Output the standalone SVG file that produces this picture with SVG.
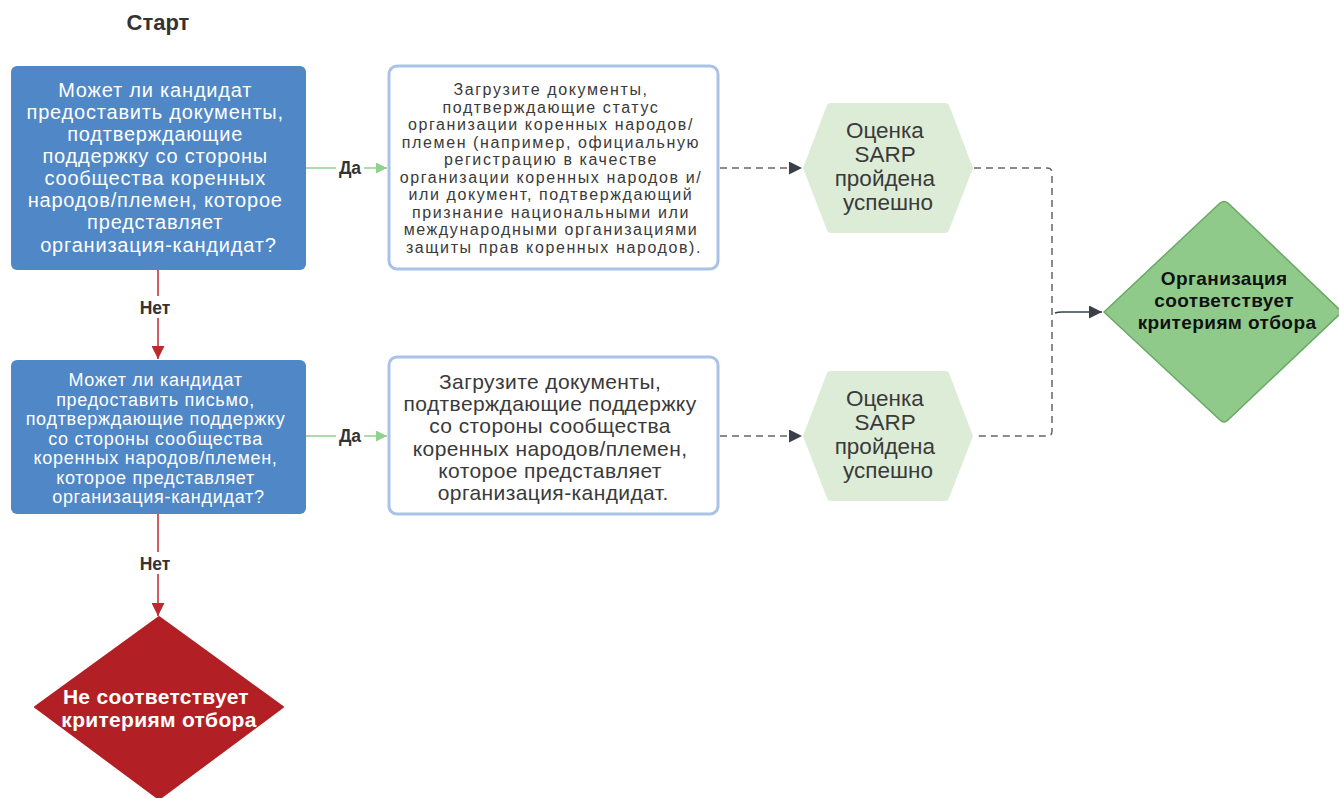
<svg xmlns="http://www.w3.org/2000/svg" width="1339" height="798" viewBox="0 0 1339 798">
<defs>
<style>
.t{font-family:"Liberation Sans",Arial,sans-serif;text-anchor:middle}
.q{fill:#4f87c7}
.qt{fill:#ffffff}
.doc{fill:#ffffff;stroke:#a9c3e6;stroke-width:3}
.dt{fill:#3a3a3a}
.hex{fill:#ddecd7}
.lbl{font-weight:bold;fill:#333;font-size:17.5px}
.yes{stroke:#90d18d;stroke-width:1.5;fill:none}
.no{stroke:#c0282d;stroke-width:1.5;fill:none}
.dash{stroke:#666;stroke-width:1.5;stroke-dasharray:7 5;fill:none}
</style>
<marker id="ag" viewBox="0 0 10 10" refX="10" refY="5" markerWidth="11" markerHeight="11" markerUnits="userSpaceOnUse" orient="auto"><path d="M0,0 L10,5 L0,10 z" fill="#90d18d"/></marker>
<marker id="ar" viewBox="0 0 10 10" refX="10" refY="5" markerWidth="13" markerHeight="13" markerUnits="userSpaceOnUse" orient="auto"><path d="M0,0 L10,5 L0,10 z" fill="#c0282d"/></marker>
<marker id="ak" viewBox="0 0 10 10" refX="10" refY="5" markerWidth="13" markerHeight="13" markerUnits="userSpaceOnUse" orient="auto"><path d="M0,0 L10,5 L0,10 z" fill="#3a3f4a"/></marker>
</defs>
<rect width="1339" height="798" fill="#ffffff"/>

<text class="t" x="158" y="30" font-size="22" font-weight="bold" fill="#333">Старт</text>

<g id="connectors">
<line class="yes" x1="306" y1="168" x2="336" y2="168"/>
<line class="yes" x1="364" y1="168" x2="387" y2="168" marker-end="url(#ag)"/>
<text class="t lbl" x="350" y="174">Да</text>
<line class="yes" x1="306" y1="436" x2="336" y2="436"/>
<line class="yes" x1="364" y1="436" x2="387" y2="436" marker-end="url(#ag)"/>
<text class="t lbl" x="350" y="442">Да</text>
<line class="no" x1="158" y1="270" x2="158" y2="296"/>
<line class="no" x1="158" y1="318" x2="158" y2="359" marker-end="url(#ar)"/>
<text class="t lbl" x="155" y="314">Нет</text>
<line class="no" x1="158" y1="514" x2="158" y2="552"/>
<line class="no" x1="158" y1="574" x2="158" y2="616" marker-end="url(#ar)"/>
<text class="t lbl" x="155" y="570">Нет</text>
<line class="dash" x1="720" y1="168" x2="802" y2="168" marker-end="url(#ak)"/>
<line class="dash" x1="720" y1="436" x2="802" y2="436" marker-end="url(#ak)"/>
<path class="dash" d="M974,168 H1047 Q1052,168 1052,173 V431 Q1052,436 1047,436 H974"/>
<path d="M1055,313 Q1058,312 1062,312 H1102" stroke="#3a3f4a" stroke-width="1.5" fill="none" marker-end="url(#ak)"/>
</g>

<g id="q1">
<rect class="q" x="11" y="66" width="295" height="204" rx="6"/>
<text class="t qt" font-size="20" letter-spacing="0.8">
<tspan x="158.4" y="97">Может ли кандидат</tspan>
<tspan x="158.4" y="119">предоставить документы,</tspan>
<tspan x="158.4" y="141">подтверждающие</tspan>
<tspan x="158.4" y="163">поддержку со стороны</tspan>
<tspan x="158.4" y="185">сообщества коренных</tspan>
<tspan x="158.4" y="207">народов/племен, которое</tspan>
<tspan x="158.4" y="229">представляет</tspan>
<tspan x="158.4" y="252">организация-кандидат?</tspan>
</text>
</g>

<g id="doc1">
<rect class="doc" x="389" y="66" width="329" height="203" rx="8"/>
<text class="t dt" font-size="16" letter-spacing="1.6">
<tspan x="554" y="95">Загрузите документы,</tspan>
<tspan x="554" y="112.5">подтверждающие статус</tspan>
<tspan x="554" y="130">организации коренных народов/</tspan>
<tspan x="554" y="147.5">племен (например, официальную</tspan>
<tspan x="554" y="165">регистрацию в качестве</tspan>
<tspan x="554" y="182.5">организации коренных народов и/</tspan>
<tspan x="554" y="200">или документ, подтверждающий</tspan>
<tspan x="554" y="217.5">признание национальными или</tspan>
<tspan x="554" y="235">международными организациями</tspan>
<tspan x="554" y="252.5">защиты прав коренных народов).</tspan>
</text>
</g>

<g id="hex1">
<path class="hex" d="M803,168 L827,105 Q828,103 831,103 L945,103 Q948,103 949,105 L973,168 L949,230 Q948,233 945,233 L831,233 Q828,233 827,230 Z"/>
<text class="t dt" font-size="22.5">
<tspan x="888" y="138">Оценка</tspan>
<tspan x="888" y="162">SARP</tspan>
<tspan x="888" y="186">пройдена</tspan>
<tspan x="888" y="210">успешно</tspan>
</text>
</g>

<g id="q2">
<rect class="q" x="11" y="360" width="295" height="154" rx="6"/>
<text class="t qt" font-size="18" letter-spacing="0.7">
<tspan x="158.4" y="386">Может ли кандидат</tspan>
<tspan x="158.4" y="405.5">предоставить письмо,</tspan>
<tspan x="158.4" y="425">подтверждающие поддержку</tspan>
<tspan x="158.4" y="444.5">со стороны сообщества</tspan>
<tspan x="158.4" y="464">коренных народов/племен,</tspan>
<tspan x="158.4" y="483.5">которое представляет</tspan>
<tspan x="158.4" y="503">организация-кандидат?</tspan>
</text>
</g>

<g id="doc2">
<rect class="doc" x="389" y="357" width="329" height="157" rx="8"/>
<text class="t dt" font-size="21" letter-spacing="0.4">
<tspan x="553.2" y="389">Загрузите документы,</tspan>
<tspan x="553.2" y="411.2">подтверждающие поддержку</tspan>
<tspan x="553.2" y="433.4">со стороны сообщества</tspan>
<tspan x="553.2" y="455.6">коренных народов/племен,</tspan>
<tspan x="553.2" y="477.8">которое представляет</tspan>
<tspan x="553.2" y="500">организация-кандидат.</tspan>
</text>
</g>

<g id="hex2">
<path class="hex" d="M803,436 L827,373 Q828,371 831,371 L945,371 Q948,371 949,373 L973,436 L949,498 Q948,501 945,501 L831,501 Q828,501 827,498 Z"/>
<text class="t dt" font-size="22.5">
<tspan x="888" y="406">Оценка</tspan>
<tspan x="888" y="430">SARP</tspan>
<tspan x="888" y="454">пройдена</tspan>
<tspan x="888" y="478">успешно</tspan>
</text>
</g>

<g id="ok">
<path d="M1104,312 L1220,203 Q1224,200 1228,203 L1342,312 L1228,420 Q1224,424 1220,420 Z" fill="#8fca8b" stroke="#6aa866" stroke-width="1.5"/>
<text class="t" font-size="19" font-weight="bold" fill="#111" letter-spacing="0.4">
<tspan x="1227" y="285">Организация</tspan>
<tspan x="1227" y="307">соответствует</tspan>
<tspan x="1227" y="329">критериям отбора</tspan>
</text>
</g>

<g id="fail">
<path d="M159,617 L283,707 L159,799 L35,707 Z" fill="#b21f24" stroke="#b21f24" stroke-width="2" stroke-linejoin="round"/>
<text class="t" font-size="21" font-weight="bold" fill="#ffffff" letter-spacing="0.3">
<tspan x="159" y="704">Не соответствует</tspan>
<tspan x="159" y="727">критериям отбора</tspan>
</text>
</g>
</svg>
